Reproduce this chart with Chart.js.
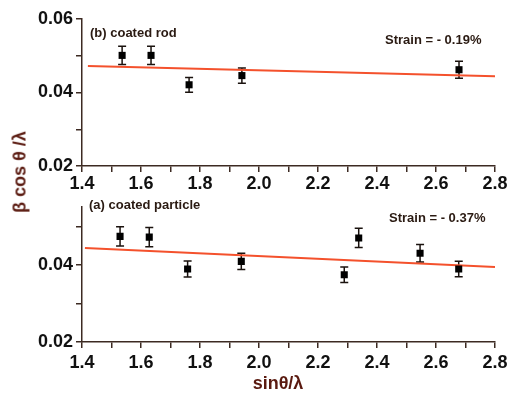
<!DOCTYPE html>
<html>
<head>
<meta charset="utf-8">
<script src="https://cdn.jsdelivr.net/npm/chart.js@4.4.1/dist/chart.umd.min.js"></script>
<style>
  body { margin: 0; background: #fff; }
  #wrap { position: relative; width: 509px; height: 393px; overflow: hidden; font-family: "Liberation Sans", Arial, sans-serif; }
  canvas { position: absolute; left: 0; }
  #topChart { top: 0; }
  #botChart { top: 193px; }
  .ytitle { position: absolute; left: 20px; top: 172px; transform: translate(-50%, -50%) rotate(-90deg);
            font-weight: bold; font-size: 18px; color: #5a1a10; white-space: nowrap; }
  .xtitle { position: absolute; left: 278px; top: 383px; transform: translate(-50%, -50%);
            font-weight: bold; font-size: 18px; color: #5a1a10; white-space: nowrap; }
</style>
</head>
<body>
<div id="wrap">
  <canvas id="topChart" width="509" height="195"></canvas>
  <canvas id="botChart" width="509" height="200"></canvas>
  <div class="ytitle">β cos θ /λ</div>
  <div class="xtitle">sinθ/λ</div>
</div>
<script>
// (b) coated rod
const rodX = [1.536, 1.634, 1.763, 1.942, 2.678];
const rodY = [0.0501, 0.0501, 0.0421, 0.0446, 0.0462];
const rodErr = [0.0025, 0.0025, 0.0020, 0.0021, 0.0023];
const rodFitX = [1.42, 2.8];
const rodFitY = [0.0472, 0.0444];

// (a) coated particle
const partX = [1.529, 1.628, 1.758, 1.940, 2.289, 2.338, 2.546, 2.677];
const partY = [0.0475, 0.0473, 0.0390, 0.0410, 0.0375, 0.0471, 0.0431, 0.0390];
const partErr = [0.0025, 0.0025, 0.0021, 0.0021, 0.0020, 0.0025, 0.0023, 0.0020];
const partFitX = [1.41, 2.8];
const partFitY = [0.0445, 0.0395];

const axisColor = '#3c2a22';
const fitColor = '#f4512c';

// error bars drawn with the chart's own scales
const errorBars = {
    id: 'errorBars',
    beforeDatasetsDraw(chart) {
        const ctx = chart.ctx;
        const xs = chart.scales.x, ys = chart.scales.y;
        chart.data.datasets.forEach(ds => {
            if (!ds.errors) return;
            ctx.save();
            ctx.strokeStyle = '#1a120e';
            ctx.lineWidth = 1.5;
            ds.data.forEach((p, i) => {
                const px = xs.getPixelForValue(p.x);
                const top = ys.getPixelForValue(p.y + ds.errors[i]);
                const bot = ys.getPixelForValue(p.y - ds.errors[i]);
                ctx.beginPath();
                ctx.moveTo(px, top); ctx.lineTo(px, bot);
                ctx.moveTo(px - 4, top); ctx.lineTo(px + 4, top);
                ctx.moveTo(px - 4, bot); ctx.lineTo(px + 4, bot);
                ctx.stroke();
            });
            ctx.restore();
        });
    }
};

// panel labels
const panelText = {
    id: 'panelText',
    afterDraw(chart, args, opts) {
        const ctx = chart.ctx;
        ctx.save();
        ctx.font = 'bold 13px "Liberation Sans", Arial, sans-serif';
        ctx.fillStyle = '#2a1a12';
        ctx.textBaseline = 'middle';
        opts.items.forEach(t => ctx.fillText(t.text, t.x, t.y));
        ctx.restore();
    }
};

function makePanel(id, xs, ys, errs, fitX, fitY, yMax, pad, xHeight, xLine, labels) {
    const ctx = document.getElementById(id).getContext('2d');
    return new Chart(ctx, {
        type: 'scatter',
        data: {
            datasets: [{
                type: 'line',
                data: fitX.map((x, i) => ({ x: x, y: fitY[i] })),
                borderColor: fitColor,
                borderWidth: 2,
                pointRadius: 0,
                order: 2
            }, {
                data: xs.map((x, i) => ({ x: x, y: ys[i] })),
                errors: errs,
                pointStyle: 'rect',
                pointRadius: 5,
                backgroundColor: '#000',
                borderColor: '#000',
                borderWidth: 0,
                order: 1
            }]
        },
        options: {
            responsive: false,
            animation: false,
            devicePixelRatio: 1,
            layout: { padding: pad },
            plugins: {
                legend: { display: false },
                tooltip: { enabled: false },
                panelText: { items: labels }
            },
            scales: {
                x: {
                    type: 'linear',
                    min: 1.4, max: 2.8,
                    afterFit: s => { s.height = xHeight; },
                    border: { color: axisColor, width: 1.5 },
                    grid: { drawOnChartArea: false, drawTicks: true, tickLength: 6, color: axisColor, lineWidth: 1.5 },
                    ticks: {
                        stepSize: 0.1,
                        includeBounds: false,
                        autoSkip: false,
                        maxRotation: 0,
                        padding: 1,
                        color: '#111',
                        font: { family: '"Liberation Sans", Arial, sans-serif', size: 18, weight: 'bold', lineHeight: xLine },
                        callback: v => Math.round(v * 10) % 2 === 0 ? v.toFixed(1) : ''
                    }
                },
                y: {
                    min: 0.02, max: yMax,
                    afterFit: s => { s.width = 82; },
                    border: { color: axisColor, width: 1.5 },
                    grid: { drawOnChartArea: false, drawTicks: true, tickLength: 6, color: axisColor, lineWidth: 1.5 },
                    ticks: {
                        stepSize: 0.01,
                        includeBounds: false,
                        autoSkip: false,
                        padding: 3,
                        color: '#111',
                        font: { family: '"Liberation Sans", Arial, sans-serif', size: 18, weight: 'bold' },
                        callback: v => Math.round(v * 100) % 2 === 0 ? v.toFixed(2) : ''
                    }
                }
            }
        },
        plugins: [errorBars, panelText]
    });
}

makePanel('topChart', rodX, rodY, rodErr, rodFitX, rodFitY, 0.06,
    { top: 19, right: 14, left: 0, bottom: 0 }, 29, 1.2,
    [{ text: '(b) coated rod', x: 90, y: 33 }, { text: 'Strain = - 0.19%', x: 385, y: 40 }]);

makePanel('botChart', partX, partY, partErr, partFitX, partFitY, 0.0552,
    { top: 2, right: 14, left: 0, bottom: 0 }, 51, 1.6,
    [{ text: '(a) coated particle', x: 89, y: 12 }, { text: 'Strain = - 0.37%', x: 389, y: 25 }]);
</script>
</body>
</html>
